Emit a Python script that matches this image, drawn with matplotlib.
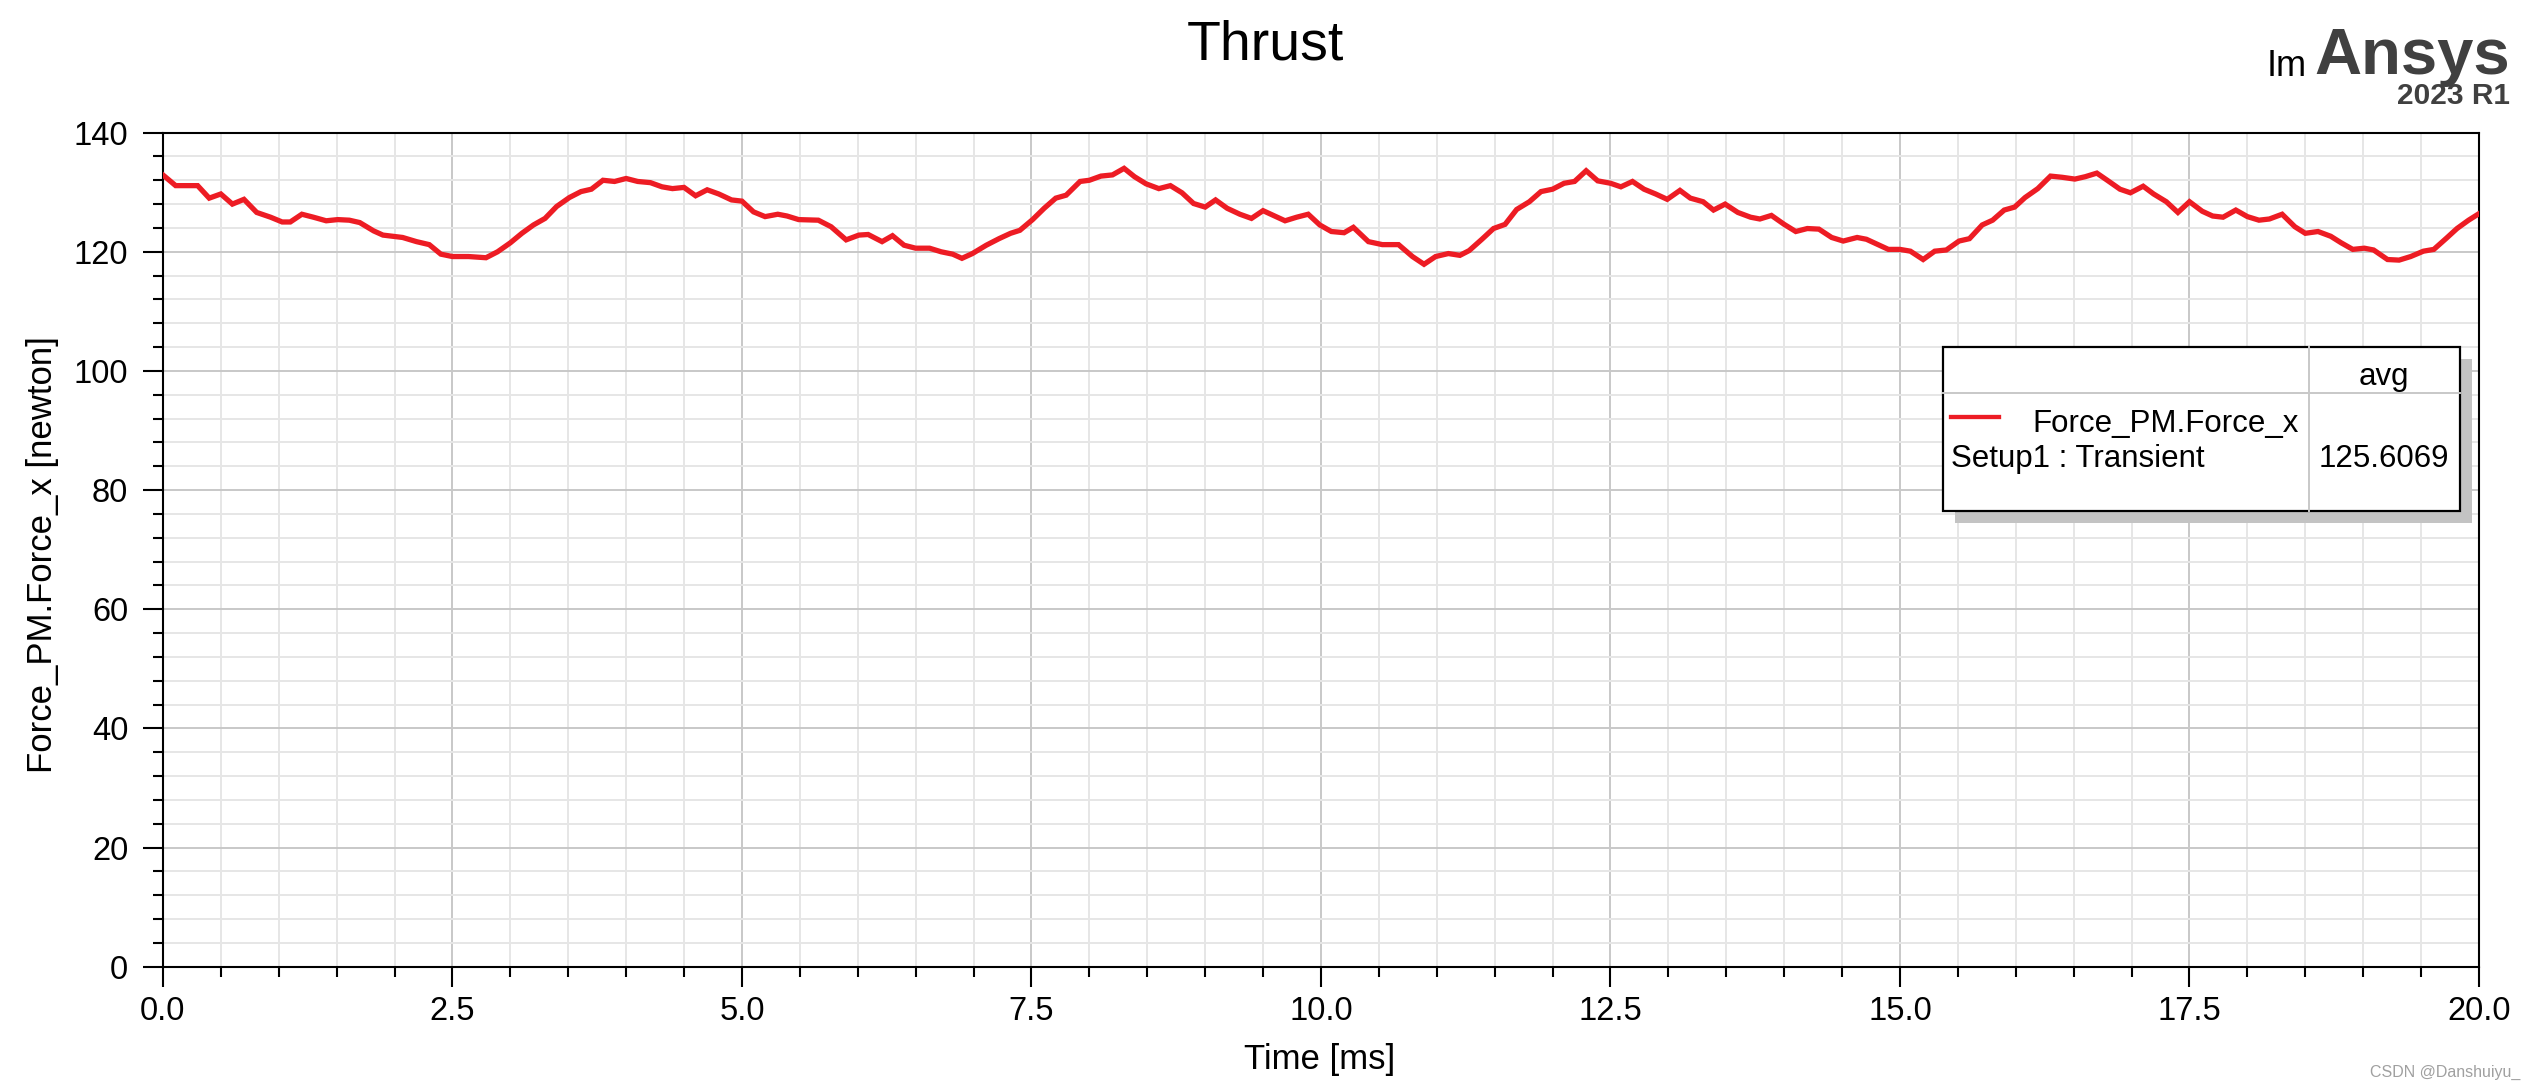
import matplotlib
matplotlib.use("Agg")
import matplotlib.pyplot as plt
from matplotlib.patches import Rectangle
from matplotlib.lines import Line2D
from matplotlib.ticker import MultipleLocator, FormatStrFormatter

plt.rcParams['font.family'] = ['Liberation Sans', 'DejaVu Sans']

# ---- data ----
time_ms = [0.00, 0.11, 0.30, 0.40, 0.50, 0.60, 0.70, 0.81, 0.93, 1.03, 1.10, 1.20, 1.30, 1.41,
           1.51, 1.61, 1.70, 1.82, 1.90, 2.07, 2.19, 2.30, 2.40, 2.50, 2.64, 2.79, 2.89, 3.00,
           3.10, 3.20, 3.30, 3.40, 3.51, 3.61, 3.70, 3.80, 3.90, 4.00, 4.10, 4.21, 4.31, 4.40,
           4.50, 4.60, 4.70, 4.80, 4.91, 5.00, 5.10, 5.20, 5.31, 5.39, 5.49, 5.66, 5.77, 5.90,
           6.01, 6.09, 6.21, 6.30, 6.40, 6.50, 6.62, 6.72, 6.82, 6.90, 6.99, 7.11, 7.22, 7.32,
           7.40, 7.51, 7.61, 7.71, 7.80, 7.92, 8.00, 8.10, 8.20, 8.30, 8.39, 8.49, 8.60, 8.70,
           8.80, 8.90, 9.00, 9.09, 9.19, 9.30, 9.40, 9.50, 9.60, 9.69, 9.79, 9.89, 9.99, 10.09,
           10.20, 10.28, 10.41, 10.53, 10.67, 10.79, 10.89, 10.99, 11.10, 11.20, 11.28, 11.39,
           11.49, 11.59, 11.69, 11.80, 11.90, 12.00, 12.10, 12.19, 12.29, 12.39, 12.50, 12.59,
           12.69, 12.79, 12.89, 12.99, 13.10, 13.19, 13.30, 13.39, 13.49, 13.60, 13.71, 13.79,
           13.89, 14.00, 14.10, 14.20, 14.30, 14.41, 14.51, 14.63, 14.71, 14.80, 14.90, 15.00,
           15.09, 15.20, 15.30, 15.40, 15.51, 15.60, 15.71, 15.80, 15.90, 15.99, 16.08, 16.19,
           16.30, 16.40, 16.51, 16.60, 16.70, 16.79, 16.90, 16.99, 17.10, 17.19, 17.30, 17.40,
           17.50, 17.61, 17.70, 17.79, 17.90, 18.00, 18.10, 18.19, 18.30, 18.41, 18.50, 18.61,
           18.72, 18.81, 18.91, 19.01, 19.09, 19.21, 19.31, 19.41, 19.52, 19.61, 19.72, 19.81,
           19.91, 20.00]
force_x = [132.9, 131.1, 131.1, 129.0, 129.7, 128.0, 128.8, 126.6, 125.8, 125.0, 125.0, 126.3,
           125.8, 125.2, 125.4, 125.3, 124.9, 123.5, 122.8, 122.4, 121.7, 121.2, 119.6, 119.2,
           119.2, 119.0, 120.0, 121.5, 123.1, 124.5, 125.6, 127.6, 129.1, 130.1, 130.5, 132.0,
           131.8, 132.3, 131.8, 131.6, 130.9, 130.6, 130.8, 129.4, 130.4, 129.7, 128.7, 128.5,
           126.7, 125.9, 126.3, 126.0, 125.4, 125.3, 124.2, 122.0, 122.8, 122.9, 121.7, 122.7,
           121.1, 120.6, 120.6, 120.0, 119.6, 118.9, 119.7, 121.1, 122.2, 123.1, 123.6, 125.4,
           127.3, 129.0, 129.5, 131.8, 132.0, 132.7, 132.9, 134.0, 132.6, 131.4, 130.6, 131.1,
           129.9, 128.1, 127.5, 128.7, 127.3, 126.3, 125.6, 126.9, 126.0, 125.2, 125.8, 126.3,
           124.5, 123.4, 123.2, 124.1, 121.7, 121.2, 121.2, 119.2, 117.9, 119.2, 119.7, 119.4,
           120.2, 122.1, 123.9, 124.6, 127.1, 128.4, 130.1, 130.5, 131.5, 131.8, 133.6, 131.9,
           131.5, 130.9, 131.8, 130.5, 129.7, 128.8, 130.3, 129.0, 128.4, 127.0, 128.0, 126.6,
           125.8, 125.5, 126.1, 124.6, 123.4, 123.9, 123.8, 122.4, 121.8, 122.4, 122.1, 121.3,
           120.4, 120.4, 120.1, 118.7, 120.1, 120.3, 121.8, 122.2, 124.5, 125.3, 127.0, 127.5,
           129.1, 130.6, 132.7, 132.5, 132.2, 132.6, 133.2, 132.0, 130.5, 129.9, 131.0, 129.7,
           128.4, 126.6, 128.4, 126.8, 126.0, 125.8, 127.0, 125.9, 125.3, 125.5, 126.3, 124.2,
           123.1, 123.4, 122.6, 121.5, 120.4, 120.6, 120.3, 118.7, 118.6, 119.2, 120.1, 120.4,
           122.3, 123.9, 125.3, 126.4]

series_name = "Force_PM.Force_x"
setup_name = "Setup1 : Transient"
avg_label = "avg"
avg_value = "125.6069"
title = "Thrust"
xlabel = "Time [ms]"
ylabel = "Force_PM.Force_x [newton]"

W, H = 2535, 1085
fig = plt.figure(figsize=(W / 100, H / 100), dpi=100)

def fx(x):
    return x / W

def fy(y):
    return 1 - y / H

ax = fig.add_axes([fx(162.9), fy(966.8), fx(2479) - fx(162.9), fy(132.6) - fy(966.8)])
RED = '#ED1C24'
ax.plot(time_ms, force_x, color=RED, lw=3.8, zorder=3, solid_joinstyle='miter')

ax.set_xlim(0, 20)
ax.set_ylim(0, 140)
ax.xaxis.set_major_locator(MultipleLocator(2.5))
ax.xaxis.set_minor_locator(MultipleLocator(0.5))
ax.yaxis.set_major_locator(MultipleLocator(20))
ax.yaxis.set_minor_locator(MultipleLocator(4))
ax.xaxis.set_major_formatter(FormatStrFormatter('%.1f'))
ax.set_axisbelow(True)
ax.grid(which='major', color='#c8c8c8', lw=1.4)
ax.grid(which='minor', color='#e6e6e6', lw=1.4)
for s in ax.spines.values():
    s.set_linewidth(1.5)
    s.set_color('black')
ax.tick_params(which='major', direction='out', length=14.4, width=1.5, labelsize=23.5,
               top=False, right=False)
ax.tick_params(which='minor', direction='out', length=7.2, width=1.5, top=False, right=False)
ax.tick_params(axis='x', which='major', pad=6.5)
ax.tick_params(axis='y', which='major', pad=10.5)

# titles / labels
fig.text(fx(1265), fy(60), title, ha='center', va='baseline', fontsize=40)
fig.text(fx(1320), fy(1068.5), xlabel, ha='center', va='baseline', fontsize=25)
fig.text(fx(43), fy(555), ylabel, ha='center', va='center', rotation=90, fontsize=25)

# legend table
lx0, lx1, ly0, ly1 = 1943, 2460, 347, 511
shadow = Rectangle((fx(lx0 + 12), fy(ly1 + 12)), fx(lx1) - fx(lx0), fy(ly0) - fy(ly1),
                   transform=fig.transFigure, facecolor='#c3c3c3', edgecolor='none', zorder=5)
box = Rectangle((fx(lx0), fy(ly1)), fx(lx1) - fx(lx0), fy(ly0) - fy(ly1),
                transform=fig.transFigure, facecolor='white', edgecolor='black', lw=1.6, zorder=6)
fig.patches.extend([shadow, box])
fig.lines.append(Line2D([fx(lx0), fx(lx1)], [fy(393), fy(393)], transform=fig.transFigure,
                        color='#c8c8c8', lw=1.4, zorder=7))
fig.lines.append(Line2D([fx(2309), fx(2309)], [fy(ly0), fy(ly1)], transform=fig.transFigure,
                        color='#c8c8c8', lw=1.4, zorder=7))
fig.lines.append(Line2D([fx(1951), fx(1999)], [fy(416.7), fy(416.7)], transform=fig.transFigure,
                        color=RED, lw=3.1, zorder=8))
fig.text(fx(2384), fy(385), avg_label, ha='center', va='baseline', fontsize=22.5, zorder=8)
fig.text(fx(2299), fy(431.7), series_name, ha='right', va='baseline', fontsize=22.5, zorder=8)
fig.text(fx(1950.7), fy(466.7), setup_name, ha='left', va='baseline', fontsize=22.5, zorder=8)
fig.text(fx(2384), fy(466.7), avg_value, ha='center', va='baseline', fontsize=22.5, zorder=8)

# logo
fig.text(fx(2267), fy(76), "Im", ha='left', va='baseline', fontsize=26, color='black')
fig.text(fx(2510), fy(74), "Ansys", ha='right', va='baseline', fontsize=47,
         fontweight='bold', color='#404040')
fig.text(fx(2510), fy(104), "2023 R1", ha='right', va='baseline', fontsize=21.5,
         fontweight='bold', color='#404040')

# watermark
fig.text(fx(2520), fy(1072), "CSDN @Danshuiyu_", ha='right', va='center', fontsize=11.5,
         color='#a0a0a0')

fig.savefig("out.png", dpi=100)
